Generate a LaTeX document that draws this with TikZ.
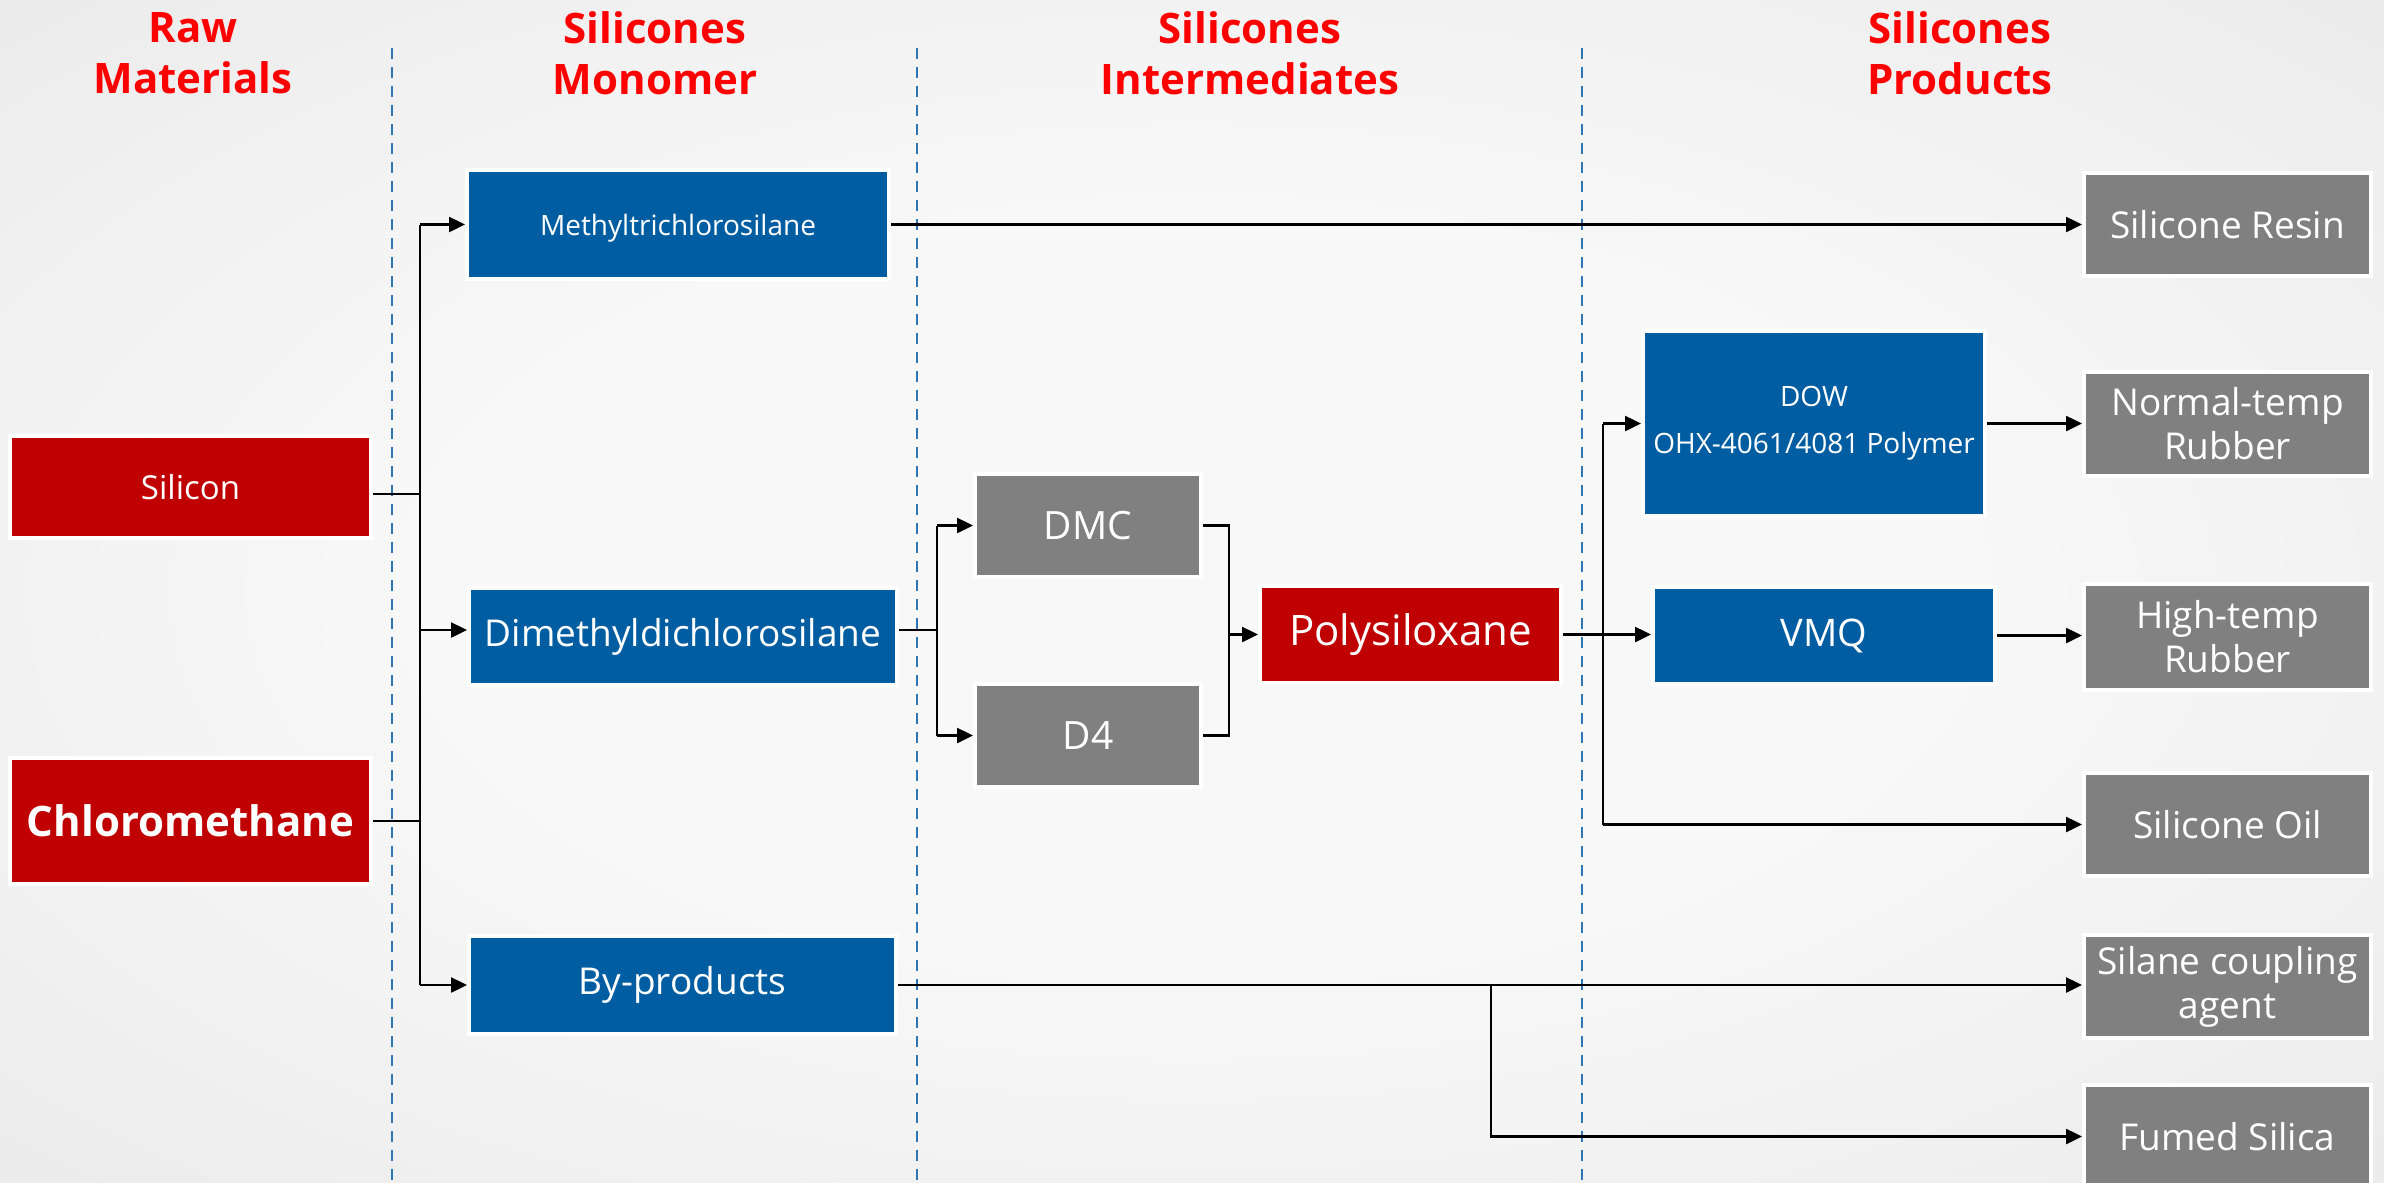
\documentclass[tikz,border=0pt]{standalone}
\usepackage{fontspec}
\setmainfont{Open Sans}
\usetikzlibrary{arrows.meta}

\definecolor{boxred}{RGB}{192,0,0}
\definecolor{boxblue}{RGB}{0,93,162}
\definecolor{boxgray}{RGB}{128,128,128}
\definecolor{headred}{RGB}{255,0,0}
\definecolor{sepblue}{RGB}{46,117,182}
\definecolor{bgin}{RGB}{248,248,248}
\definecolor{bgout}{RGB}{226,226,226}

\pgfdeclareradialshading{bgglow}{\pgfpoint{0bp}{0bp}}{%
  color(0bp)=(bgin); color(16bp)=(bgin); color(50bp)=(bgout); color(72bp)=(bgout)}

\begin{document}
\begin{tikzpicture}[x=0.3pt, y=-0.3pt,
  box/.style={draw=white, line width=1.2pt, text=white, inner sep=0pt, align=center},
  redbox/.style={box, fill=boxred},
  bluebox/.style={box, fill=boxblue},
  graybox/.style={box, fill=boxgray},
  sz/.style 2 args={minimum width=#1*0.3pt, minimum height=#2*0.3pt},
  head/.style={text=headred, inner sep=0pt, align=center,
    font=\fontsize{12.6pt}{15.2pt}\selectfont\bfseries},
  sep/.style={sepblue, line width=0.6pt, dash pattern=on 3.3pt off 2.4pt},
  link/.style={line width=0.75pt, black},
  arr/.style={link, -{Triangle[length=4.8pt, width=4.5pt]}},
  prod/.style={graybox, sz={287}{103}, font=\fontsize{11.1pt}{13.2pt}\selectfont}
]
% canvas and soft background
\useasboundingbox (0,0) rectangle (2384,1183);
\shade[shading=bgglow] (0,0) rectangle (2384,1183);

% column separators
\draw[sep] (392,48) -- (392,1183);
\draw[sep] (917,48) -- (917,1183);
\draw[sep] (1582,48) -- (1582,1183);

% column headings
\node[head] (h1) at (193,53) {Raw\\Materials};
\node[head] (h2) at (655,53) {Silicones\\Monomer};
\node[head] (h3) at (1250,53) {Silicones\\Intermediates};
\node[head] (h4) at (1960,53) {Silicones\\Products};

% raw materials
\node[redbox, sz={361}{102}, font=\fontsize{9.9pt}{12pt}\selectfont] (silicon) at (190.5,487) {Silicon};
\node[redbox, sz={361}{126}, font=\fontsize{12.6pt}{15pt}\selectfont\bfseries] (chloro) at (190.5,821) {Chloromethane};

% monomers
\node[bluebox, sz={422}{109}, font=\fontsize{8.4pt}{10pt}\selectfont, text depth=0pt] (methyl) at (678,224.5) {Methyltrichlorosilane};
\node[bluebox, sz={428}{97}, font=\fontsize{11.1pt}{13pt}\selectfont] (dimethyl) at (683,636.5) {Dimethyldichlorosilane};
\node[bluebox, sz={427}{98}, font=\fontsize{11.1pt}{13pt}\selectfont] (byprod) at (682.5,985) {By-products};

% intermediates
\node[graybox, sz={226}{103}, font=\fontsize{11.7pt}{14pt}\selectfont] (dmc) at (1088,525.5) {DMC};
\node[graybox, sz={226}{103}, font=\fontsize{11.7pt}{14pt}\selectfont] (d4) at (1088,735.5) {D4};
\node[redbox, sz={301}{97}, font=\fontsize{12.6pt}{15pt}\selectfont] (poly) at (1410.5,634.5) {Polysiloxane};

% polymers
\node[bluebox, sz={342}{185}, font=\fontsize{8.4pt}{14.2pt}\selectfont] (dow) at (1814,423.5) {DOW\\OHX-4061/4081 Polymer};
\node[bluebox, sz={342}{97}, font=\fontsize{11.4pt}{14pt}\selectfont] (vmq) at (1824,635.5) {VMQ};

% products
\node[prod] (resin) at (2227.5,224.5) {Silicone Resin};
\node[prod, sz={287}{104}] (normal) at (2227.5,424) {Normal-temp\\Rubber};
\node[prod, sz={287}{106}] (high) at (2227.5,637) {High-temp\\Rubber};
\node[prod] (oil) at (2227.5,824.5) {Silicone Oil};
\node[prod] (silane) at (2227.5,986.5) {Silane coupling\\agent};
\node[prod] (fumed) at (2227.5,1136.5) {Fumed Silica};

% junction columns
\coordinate (xbus) at (420,600);
\coordinate (xdm) at (937,600);
\coordinate (xmg) at (1229,600);
\coordinate (xpb) at (1603,600);
\coordinate (xbp) at (1491,600);

% raw materials -> monomers
\draw[link] ([yshift=-2.1pt]silicon.east) -- ([yshift=-2.1pt]silicon.east -| xbus);
\draw[link] (chloro.east) -- (chloro.east -| xbus);
\draw[link] (xbus |- methyl.west) -- (xbus |- byprod.west);
\draw[arr] (xbus |- methyl.west) -- (methyl.west);
\draw[arr] ([yshift=1.95pt]dimethyl.west -| xbus) -- ([yshift=1.95pt]dimethyl.west);
\draw[arr] (xbus |- byprod.west) -- (byprod.west);

% methyltrichlorosilane -> resin
\draw[arr] (methyl.east) -- (methyl.east -| resin.west);

% dimethyldichlorosilane -> DMC / D4
\draw[link] ([yshift=1.95pt]dimethyl.east) -- ([yshift=1.95pt]dimethyl.east -| xdm);
\draw[link] (xdm |- dmc.west) -- (xdm |- d4.west);
\draw[arr] (xdm |- dmc.west) -- (dmc.west);
\draw[arr] (xdm |- d4.west) -- (d4.west);

% DMC / D4 -> polysiloxane
\draw[link] (dmc.east) -- (dmc.east -| xmg) -- (d4.east -| xmg) -- (d4.east);
\draw[arr] (xmg |- poly.west) -- (poly.west);

% polysiloxane -> polymers and oil
\draw[arr] (poly.east) -- (poly.east -| vmq.west);
\draw[link] (xpb |- dow.west) -- (xpb |- oil.west);
\draw[arr] (xpb |- dow.west) -- (dow.west);
\draw[arr] (xpb |- oil.west) -- (oil.west);

% polymers -> rubbers
\draw[arr] (dow.east) -- (dow.east -| normal.west);
\draw[arr] (vmq.east) -- (vmq.east -| high.west);

% by-products -> coupling agent / fumed silica
\draw[arr] (byprod.east) -- (byprod.east -| silane.west);
\draw[arr] (byprod.east -| xbp) |- (fumed.west);
\end{tikzpicture}
\end{document}
